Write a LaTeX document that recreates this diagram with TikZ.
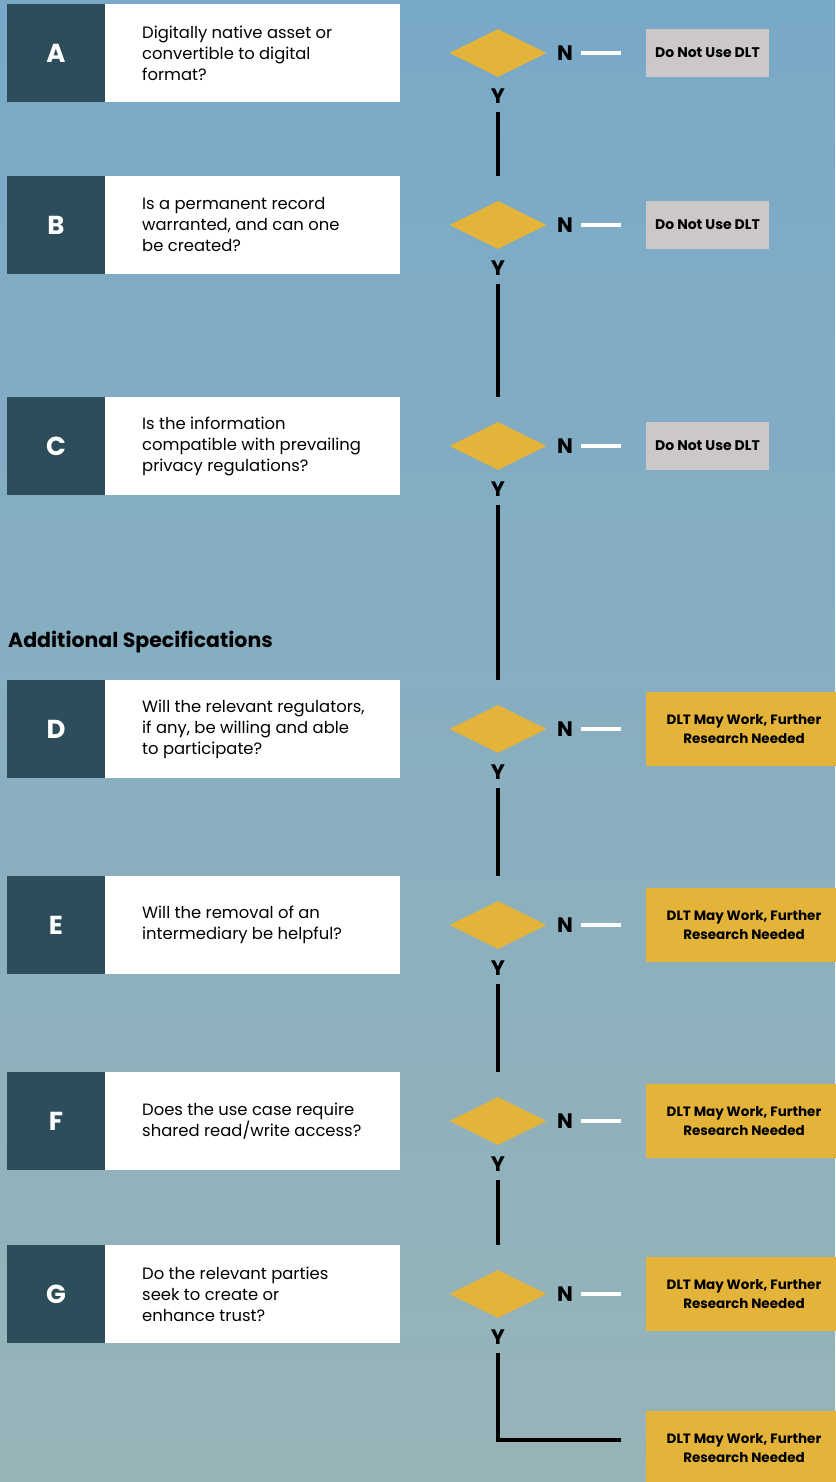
\documentclass[tikz,border=0pt]{standalone}
\usepackage{fontspec}
\setmainfont{Poppins}
\usetikzlibrary{shapes.geometric}
\definecolor{skytop}{HTML}{79A9C8}
\definecolor{skybot}{HTML}{97B4B8}
\definecolor{slate}{HTML}{2D4D5B}
\definecolor{gold}{HTML}{E4B43A}
\definecolor{stone}{HTML}{CBC8C7}

\tikzset{
 letterbox/.style={fill=slate, minimum width=98pt, minimum height=98pt, inner sep=0, text=white, font=\bfseries\fontsize{26}{26}\selectfont},
 askbox/.style={fill=white, minimum width=295pt, minimum height=98pt, inner sep=0},
 asktext/.style={anchor=west, align=left, inner sep=0, font=\fontsize{16.4}{21}\selectfont},
 choice/.style={diamond, fill=gold, minimum width=97pt, minimum height=48pt, inner sep=0},
 yn/.style={inner sep=0, font=\bfseries\fontsize{21}{21}\selectfont},
 stopbox/.style={fill=stone, minimum width=123pt, minimum height=48pt, inner sep=0, font=\bfseries\fontsize{14}{14}\selectfont},
 maybebox/.style={fill=gold, minimum width=196pt, minimum height=74pt, inner sep=0, align=center, font=\bfseries\fontsize{13.5}{19}\selectfont},
 yline/.style={line width=4pt},
 nline/.style={white, line width=4pt}
}

\begin{document}
\begin{tikzpicture}[x=1pt,y=-1pt]
 \useasboundingbox (0,0) rectangle (835,1482);
 \fill[top color=skytop, bottom color=skybot] (0,0) rectangle (835,1482);

 % one row per question
 \foreach \l/\r/\q/\o/\x/\t in {
   A/53/{Digitally native asset or\\convertible to digital\\format?}/stopbox/707.5/{Do Not Use DLT},
   B/225/{Is a permanent record\\warranted, and can one\\be created?}/stopbox/707.5/{Do Not Use DLT},
   C/446/{Is the information\\compatible with prevailing\\privacy regulations?}/stopbox/707.5/{Do Not Use DLT},
   D/729/{Will the relevant regulators,\\if any, be willing and able\\to participate?}/maybebox/744/{DLT May Work, Further\\Research Needed},
   E/925/{Will the removal of an\\intermediary be helpful?}/maybebox/744/{DLT May Work, Further\\Research Needed},
   F/1121/{Does the use case require\\shared read/write access?}/maybebox/744/{DLT May Work, Further\\Research Needed},
   G/1294/{Do the relevant parties\\seek to create or\\enhance trust?}/maybebox/744/{DLT May Work, Further\\Research Needed}} {
  \node[letterbox] (letter\l) at (56,\r) {\l};
  \node[askbox] (ask\l) at (252.5,\r) {};
  \node[asktext] (text\l) at (142,\r) {\q};
  \node[choice] (choice\l) at (498,\r) {};
  \node[yn] (n\l) at (565,\r) {N};
  \node[yn] (y\l) at (498,\r+43) {Y};
  \node[\o] (out\l) at (\x,\r) {\t};
  \draw[nline] ([xshift=8pt]n\l.east) -- ([xshift=-25pt]out\l.west);
 }

 \node[anchor=west, inner sep=0, font=\bfseries\fontsize{20.5}{20.5}\selectfont] (extra) at (8,642) {Additional Specifications};

 \foreach \a/\b in {A/B,B/C,C/D,D/E,E/F,F/G}
  \draw[yline] ([yshift=-8pt]y\a.south) -- (choice\a |- letter\b.north);

 \node[maybebox] (outEnd) at (744,1448) {DLT May Work, Further\\Research Needed};
 \draw[yline] ([yshift=-8pt]yG.south) |- ([xshift=-25pt,yshift=8pt]outEnd.west);
\end{tikzpicture}
\end{document}
